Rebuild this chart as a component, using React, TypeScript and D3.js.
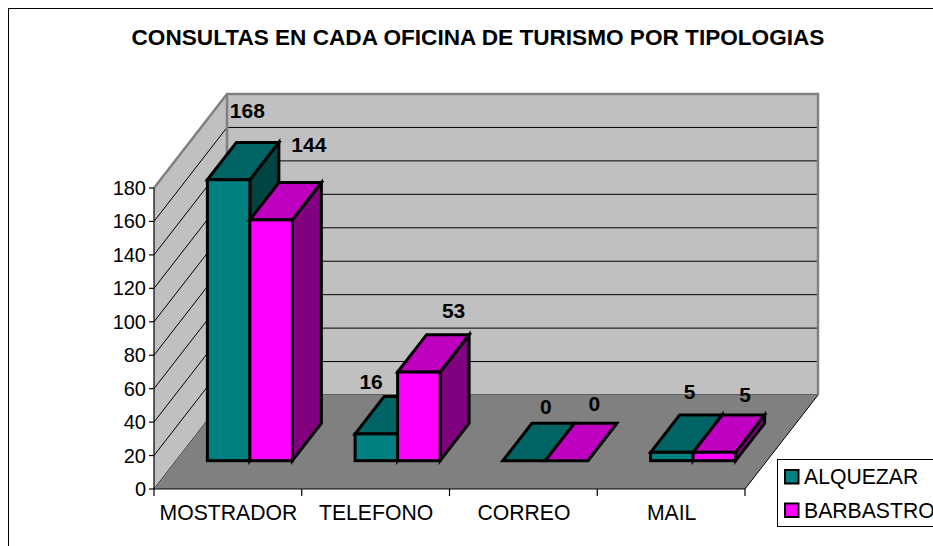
import React from "react";
import * as d3 from "d3";

const categories = ["MOSTRADOR", "TELEFONO", "CORREO", "MAIL"];
const alquezar = [168, 16, 0, 5];
const barbastro = [144, 53, 0, 5];
const yTicks = [0, 20, 40, 60, 80, 100, 120, 140, 160, 180];
const title = "CONSULTAS EN CADA OFICINA DE TURISMO POR TIPOLOGIAS";

const seriesNames = ["ALQUEZAR", "BARBASTRO"];
const seriesData = [alquezar, barbastro];
const palette = [
  { front: "#008080", top: "#006464", side: "#004444" },
  { front: "#ff00ff", top: "#c000c0", side: "#800080" },
];
// hand-placed label shifts, relative to the top of each bar [dx, dy]
const labelShift = [
  [[40, -62], [59, -68]],
  [[16, -45], [56, -54]],
  [[43, -47], [49, -50]],
  [[39, -53], [52, -50]],
];

const FONT = "'Liberation Sans', Arial, sans-serif";
const x0 = 154, x1 = 745, y0 = 489, yTop = 188;
const depthX = 73, depthY = 94;
const y = d3.scaleLinear().domain([0, 180]).range([y0, yTop]);
const xCat = d3.scaleBand<string>().domain(categories).range([x0, x1]);
const gapFrac = 22 / 73;
const barDepthFrac = 29 / 73;
const baseDx = depthX * gapFrac;
const baseDy = depthY * gapFrac;
const barDx = depthX * barDepthFrac;
const barDy = depthY * barDepthFrac;
const barW = 42.5;
const pts = (a: number[][]) => a.map((p) => p.join(",")).join(" ");
const lineGen = d3.line();

export default function App() {
  return (
    <svg width={933} height={546} style={{ position: "absolute", left: 0, top: 0, background: "#fff" }} fontFamily={FONT}>
      <rect x={8.5} y={8.5} width={940} height={560} fill="#fff" stroke="#000" strokeWidth={1} />
      <text x={478} y={45} textAnchor="middle" fontSize={22.6} fontWeight="bold" fill="#000">{title}</text>

      {/* walls */}
      <polygon points={pts([[x0 + depthX, y(180) - depthY], [x1 + depthX, y(180) - depthY], [x1 + depthX, y0 - depthY], [x0 + depthX, y0 - depthY]])} fill="#c0c0c0" />
      <polygon points={pts([[x0, y(180)], [x0 + depthX, y(180) - depthY], [x0 + depthX, y0 - depthY], [x0, y0]])} fill="#c0c0c0" />
      {yTicks.map((t) => (
        <g key={t} stroke="#000" strokeWidth={1}>
          <line x1={x0} y1={y(t)} x2={x0 + depthX} y2={y(t) - depthY} />
          <line x1={x0 + depthX} y1={y(t) - depthY} x2={x1 + depthX} y2={y(t) - depthY} />
        </g>
      ))}
      <polygon points={pts([[x0, y0], [x1, y0], [x1 + depthX, y0 - depthY], [x0 + depthX, y0 - depthY]])} fill="#808080" />
      <path d={lineGen([[x0, y(180)], [x0 + depthX, y(180) - depthY], [x1 + depthX, y(180) - depthY], [x1 + depthX, y0 - depthY]]) ?? ""} fill="none" stroke="#808080" strokeWidth={2.5} />
      <line x1={x0 + depthX} y1={y(180) - depthY} x2={x0 + depthX} y2={y0 - depthY} stroke="#808080" strokeWidth={2.5} />
      <line x1={x1} y1={y0} x2={x1 + depthX} y2={y0 - depthY} stroke="#000" strokeWidth={1} />

      {/* axes */}
      <line x1={x0} y1={yTop} x2={x0} y2={y0} stroke="#000" strokeWidth={1.2} />
      <line x1={x0} y1={y0} x2={x1} y2={y0} stroke="#000" strokeWidth={1.2} />
      {yTicks.map((t) => (
        <g key={t}>
          <line x1={x0 - 5} y1={y(t)} x2={x0} y2={y(t)} stroke="#000" strokeWidth={1.2} />
          <text x={146} y={y(t) + 7} textAnchor="end" fontSize={20} fill="#000">{t}</text>
        </g>
      ))}
      {[...categories.map((c) => xCat(c)!), x1].map((v) => (
        <line key={v} x1={v} y1={y0} x2={v} y2={y0 + 7} stroke="#000" strokeWidth={1.2} />
      ))}
      {categories.map((c) => (
        <text key={c} x={xCat(c)! + xCat.bandwidth() / 2 + 0.5} y={520} textAnchor="middle" fontSize={21.2} fill="#000">{c}</text>
      ))}

      {/* bars */}
      {categories.map((c, ci) => {
        const left = xCat(c)! + baseDx + (xCat.bandwidth() - 2 * barW) / 2;
        const base = y(0) - baseDy;
        return seriesData.map((vals, si) => {
          const xa = left + si * barW;
          const xb = xa + barW;
          const h = y(0) - y(vals[ci]);
          const ty = base - h;
          const col = palette[si];
          const style = { stroke: "#000", strokeWidth: 3, strokeLinejoin: "miter" as const };
          return (
            <g key={c + si}>
              <polygon points={pts([[xb, ty], [xb + barDx, ty - barDy], [xb + barDx, base - barDy], [xb, base]])} fill={col.side} {...style} />
              <polygon points={pts([[xa, ty], [xa + barDx, ty - barDy], [xb + barDx, ty - barDy], [xb, ty]])} fill={col.top} {...style} />
              <rect x={xa} y={ty} width={barW} height={h} fill={col.front} {...style} />
            </g>
          );
        });
      })}

      {/* data labels */}
      {categories.map((c, ci) => {
        const left = xCat(c)! + baseDx + (xCat.bandwidth() - 2 * barW) / 2;
        return seriesData.map((vals, si) => {
          const xa = left + si * barW;
          const ty = y(0) - baseDy - (y(0) - y(vals[ci]));
          return (
            <text key={c + si} x={xa + labelShift[ci][si][0]} y={ty + labelShift[ci][si][1]} textAnchor="middle" fontSize={21} fontWeight="bold" fill="#000">{vals[ci]}</text>
          );
        });
      })}

      {/* legend */}
      <rect x={777.5} y={459.5} width={200} height={67} fill="#fff" stroke="#000" strokeWidth={1} />
      {seriesNames.map((n, i) => (
        <g key={n}>
          <rect x={785} y={470 + i * 33.5} width={13.5} height={13.5} fill={palette[i].front} stroke="#000" strokeWidth={2} />
          <text x={804} y={484 + i * 33.5} fontSize={21.2} fill="#000">{n}</text>
        </g>
      ))}
    </svg>
  );
}
